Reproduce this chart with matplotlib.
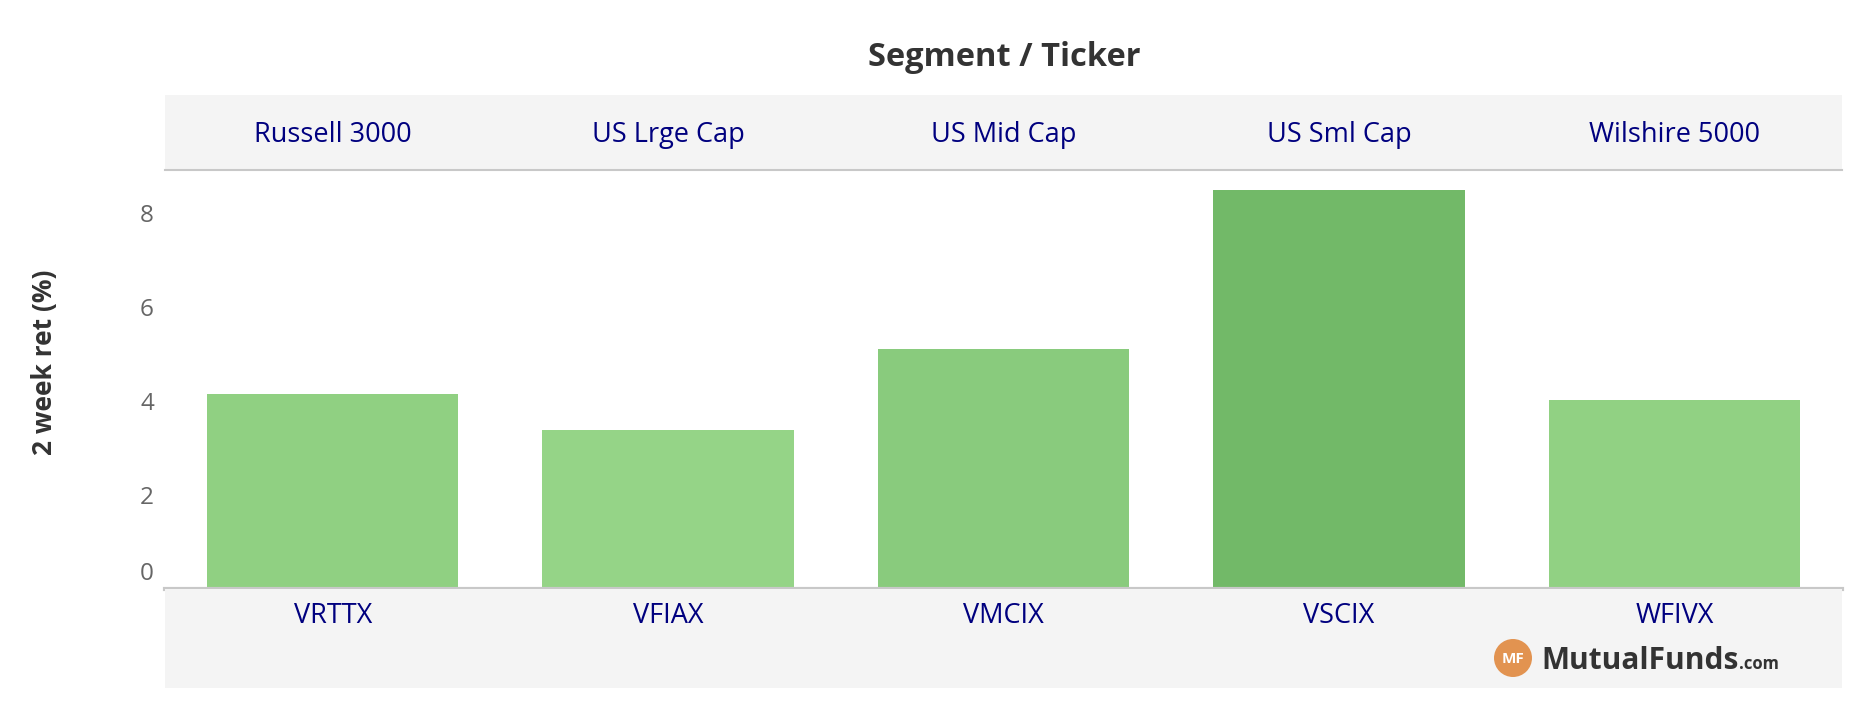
import matplotlib
matplotlib.use("Agg")
import matplotlib.pyplot as plt
import matplotlib.transforms as mtransforms
from matplotlib.colors import LinearSegmentedColormap, Normalize
from matplotlib.patches import Ellipse

# 数据
segments = ["Russell 3000", "US Lrge Cap", "US Mid Cap", "US Sml Cap", "Wilshire 5000"]
tickers = ["VRTTX", "VFIAX", "VMCIX", "VSCIX", "WFIVX"]
ret_2wk = [4.15, 3.38, 5.11, 8.49, 4.02]
y_ticks = [0, 2, 4, 6, 8]

W, H = 1856, 703
navy = "#00007f"
band = "#f4f4f4"
font = "Open Sans"
plt.rcParams["font.family"] = [font, "DejaVu Sans"]

fig = plt.figure(figsize=(W / 100, H / 100), dpi=100)

def box(x0, y0, x1, y1):
    # 像素坐标(左上原点) -> figure 坐标
    return [x0 / W, (H - y1) / H, (x1 - x0) / W, (y1 - y0) / H]

# 主图 ~~~~~~~~~~~~~~~~~~~~~~~~~~~~~~~~~~~~~~~~~~~~~~~~~~~~~~~~~~~~~~
ax = fig.add_axes(box(165, 170, 1842, 589))
cmap = LinearSegmentedColormap.from_list("grn", ["#95d487", "#72b968"])
norm = Normalize(min(ret_2wk), max(ret_2wk))
x = range(len(tickers))
ax.bar(x, ret_2wk, width=0.75, color=[cmap(norm(v)) for v in ret_2wk], zorder=2)
ax.set_xlim(-0.5, len(tickers) - 0.5)
ax.set_ylim(0, (589 - 170) / 47)
ax.set_xticks([])
ax.set_yticks(y_ticks)
ax.set_yticklabels([str(t) for t in y_ticks])
ax.tick_params(axis="y", length=0, pad=8, labelsize=17.5, labelcolor="#666666")
for s in ["top", "left", "right"]:
    ax.spines[s].set_visible(False)
ax.spines["bottom"].set_color("#c8c8c8")
ax.spines["bottom"].set_linewidth(3)
ax.spines["bottom"].set_zorder(3)
# 0 的刻度标签上移
lab0 = ax.yaxis.get_major_ticks()[0].label1
lab0.set_transform(lab0.get_transform() + mtransforms.ScaledTranslation(0, 18 / 100, fig.dpi_scale_trans))
ax.set_ylabel("2 week ret (%)", fontsize=19, fontweight="bold", color="#333333")
ax.yaxis.set_label_coords(58 / W, 1 - 362 / H, transform=fig.transFigure)

# 表头 ~~~~~~~~~~~~~~~~~~~~~~~~~~~~~~~~~~~~~~~~~~~~~~~~~~~~~~~~~~~~~~
hx = fig.add_axes(box(165, 95, 1842, 170))
hx.set_facecolor(band)
hx.set_xlim(-0.5, len(tickers) - 0.5)
hx.set_ylim(0, 1)
hx.set_xticks([])
hx.set_yticks([])
for s in ["top", "left", "right"]:
    hx.spines[s].set_visible(False)
hx.spines["bottom"].set_color("#c8c8c8")
hx.spines["bottom"].set_linewidth(1.5)
for i, s in enumerate(segments):
    hx.text(i, 0.47, s, ha="center", va="center", fontsize=19.5, color=navy)

fig.text(1004 / W, 1 - 57 / H, "Segment / Ticker", ha="center", va="center",
         fontsize=23.5, fontweight="bold", color="#333333")

# 底部 ~~~~~~~~~~~~~~~~~~~~~~~~~~~~~~~~~~~~~~~~~~~~~~~~~~~~~~~~~~~~~~
fx = fig.add_axes(box(165, 589, 1842, 688))
fx.set_facecolor(band)
fx.set_xlim(-0.5, len(tickers) - 0.5)
fx.set_ylim(0, 1)
fx.set_xticks([])
fx.set_yticks([])
for s in fx.spines.values():
    s.set_visible(False)
for i, t in enumerate(tickers):
    fx.text(i, 1 - 27 / 99, t, ha="center", va="center", fontsize=19.5, color=navy)

# logo
fig.patches.append(Ellipse((1513 / W, 1 - 658 / H), 38 / W, 38 / H, transform=fig.transFigure,
                           facecolor="#e29350", edgecolor="none"))
fig.text(1513 / W, 1 - 659 / H, "MF", ha="center", va="center", fontsize=11,
         fontweight="bold", color="white")
t1 = fig.text(1541 / W, 1 - 669 / H, "MutualFunds", ha="left", va="baseline",
              fontsize=21.5, fontweight="bold", color="#333333")
fig.canvas.draw()
bb = t1.get_window_extent()
fig.text(bb.x1 / W + 1 / W, 1 - 669 / H, ".com", ha="left", va="baseline", fontsize=12,
         fontweight="bold", color="#333333")

fig.savefig("out.png", dpi=100, facecolor="white")
